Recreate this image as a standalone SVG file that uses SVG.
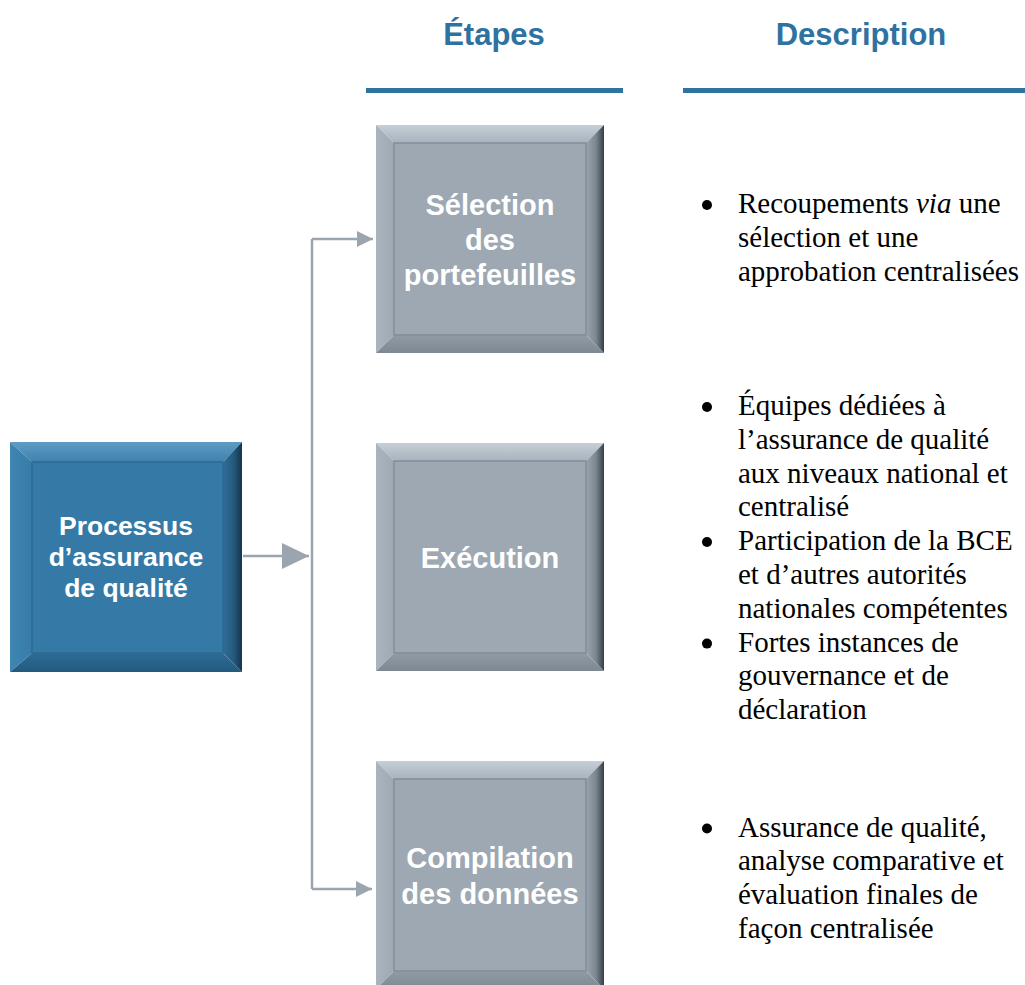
<svg xmlns="http://www.w3.org/2000/svg" xmlns:xlink="http://www.w3.org/1999/xlink" width="1025" height="985" viewBox="0 0 1025 985">
<style>
.hdr{font-family:"Liberation Sans",Arial,sans-serif;font-weight:bold;font-size:31px;fill:#2F72A0;text-anchor:middle}
.box{font-family:"Liberation Sans",Arial,sans-serif;font-weight:bold;font-size:29px;fill:#FFFFFF;text-anchor:middle}
.boxl{font-family:"Liberation Sans",Arial,sans-serif;font-weight:bold;font-size:26.5px;fill:#FFFFFF;text-anchor:middle}
.desc{font-family:"Liberation Serif","Times New Roman",serif;font-size:29px;fill:#000000}
.conn{fill:none;stroke:#9AA5AF;stroke-width:2.5}
</style>
<defs>
<linearGradient id="gTop" x1="0" y1="0" x2="0" y2="1"><stop offset="0" stop-color="#C6CED6"/><stop offset="1" stop-color="#A9B3BD"/></linearGradient>
<linearGradient id="gLeft" x1="0" y1="0" x2="1" y2="0"><stop offset="0" stop-color="#AAB4BE"/><stop offset="1" stop-color="#9EA9B3"/></linearGradient>
<linearGradient id="gBot" x1="0" y1="0" x2="0" y2="1"><stop offset="0" stop-color="#909BA6"/><stop offset="1" stop-color="#7D8893"/></linearGradient>
<linearGradient id="gRight" x1="0" y1="0" x2="1" y2="0"><stop offset="0" stop-color="#9AA4AE"/><stop offset="0.55" stop-color="#7C8791"/><stop offset="1" stop-color="#363F47"/></linearGradient>
<linearGradient id="bTop" x1="0" y1="0" x2="0" y2="1"><stop offset="0" stop-color="#5F9CC5"/><stop offset="1" stop-color="#3E82AE"/></linearGradient>
<linearGradient id="bLeft" x1="0" y1="0" x2="1" y2="0"><stop offset="0" stop-color="#4086B2"/><stop offset="1" stop-color="#377CA9"/></linearGradient>
<linearGradient id="bBot" x1="0" y1="0" x2="0" y2="1"><stop offset="0" stop-color="#2E6C95"/><stop offset="1" stop-color="#235A7F"/></linearGradient>
<linearGradient id="bRight" x1="0" y1="0" x2="1" y2="0"><stop offset="0" stop-color="#306E98"/><stop offset="0.55" stop-color="#255A7E"/><stop offset="1" stop-color="#14354D"/></linearGradient>
<g id="grayBox">
<polygon points="0,0 228,0 210,18 18,18" fill="url(#gTop)"/>
<polygon points="0,0 18,18 18,210 0,228" fill="url(#gLeft)"/>
<polygon points="0,228 228,228 210,210 18,210" fill="url(#gBot)"/>
<polygon points="228,0 228,228 210,210 210,18" fill="url(#gRight)"/>
<rect x="18" y="18" width="192" height="192" fill="#9DA8B3" stroke="#828D99" stroke-width="1.5"/>
</g>
<g id="blueBox">
<polygon points="0,0 232,0 213,20 22,20" fill="url(#bTop)"/>
<polygon points="0,0 22,20 22,211 0,230" fill="url(#bLeft)"/>
<polygon points="0,230 232,230 213,211 22,211" fill="url(#bBot)"/>
<polygon points="232,0 232,230 213,211 213,20" fill="url(#bRight)"/>
<rect x="22" y="20" width="191" height="191" fill="#357AA7" stroke="#2B6A93" stroke-width="1.5"/>
</g>
<marker id="arrBig" markerUnits="userSpaceOnUse" markerWidth="27" markerHeight="26" refX="27" refY="13" orient="auto"><polygon points="0,0 27,13 0,26" fill="#9AA5AF"/></marker>
<marker id="arrSmall" markerUnits="userSpaceOnUse" markerWidth="16" markerHeight="16" refX="16" refY="8" orient="auto"><polygon points="0,0 16,8 0,16" fill="#9AA5AF"/></marker>
</defs>
<rect width="1025" height="985" fill="#FFFFFF"/>
<g id="headers">
<text class="hdr" x="494" y="45">Étapes</text>
<rect x="366" y="88" width="257" height="5" fill="#2F73A0"/>
<text class="hdr" x="861" y="45">Description</text>
<rect x="683" y="88" width="342" height="5" fill="#2F73A0"/>
</g>
<g id="connectors">
<path class="conn" d="M243,556 H309" marker-end="url(#arrBig)"/>
<path class="conn" d="M312,239 V889"/>
<path class="conn" d="M312,239 H373" marker-end="url(#arrSmall)"/>
<path class="conn" d="M312,889 H372" marker-end="url(#arrSmall)"/>
</g>
<g id="node-processus">
<use xlink:href="#blueBox" x="10" y="442"/>
<text class="boxl" x="126" y="535">Processus</text>
<text class="boxl" x="126" y="566">d’assurance</text>
<text class="boxl" x="126" y="597">de qualité</text>
</g>
<g id="node-selection">
<use xlink:href="#grayBox" x="376" y="125"/>
<text class="box" x="490" y="215">Sélection</text>
<text class="box" x="490" y="250">des</text>
<text class="box" x="490" y="285">portefeuilles</text>
</g>
<g id="node-execution">
<use xlink:href="#grayBox" x="376" y="443"/>
<text class="box" x="490" y="568">Exécution</text>
</g>
<g id="node-compilation">
<use xlink:href="#grayBox" x="376" y="761"/>
<text class="box" x="490" y="868">Compilation</text>
<text class="box" x="490" y="904">des données</text>
</g>
<g id="desc-selection">
<circle cx="707" cy="205" r="5"/>
<text class="desc" x="738" y="213">Recoupements <tspan font-style="italic">via</tspan> une</text>
<text class="desc" x="738" y="247">sélection et une</text>
<text class="desc" x="738" y="281">approbation centralisées</text>
</g>
<g id="desc-execution">
<circle cx="707" cy="407" r="5"/>
<text class="desc" x="738" y="415">Équipes dédiées à</text>
<text class="desc" x="738" y="448.8">l’assurance de qualité</text>
<text class="desc" x="738" y="482.6">aux niveaux national et</text>
<text class="desc" x="738" y="516.4">centralisé</text>
<circle cx="707" cy="542" r="5"/>
<text class="desc" x="738" y="550.2">Participation de la BCE</text>
<text class="desc" x="738" y="584">et d’autres autorités</text>
<text class="desc" x="738" y="617.8">nationales compétentes</text>
<circle cx="707" cy="643.6" r="5"/>
<text class="desc" x="738" y="651.6">Fortes instances de</text>
<text class="desc" x="738" y="685.4">gouvernance et de</text>
<text class="desc" x="738" y="719.2">déclaration</text>
</g>
<g id="desc-compilation">
<circle cx="707" cy="828.5" r="5"/>
<text class="desc" x="738" y="836.5">Assurance de qualité,</text>
<text class="desc" x="738" y="870.3">analyse comparative et</text>
<text class="desc" x="738" y="904.1">évaluation finales de</text>
<text class="desc" x="738" y="938">façon centralisée</text>
</g>
</svg>
